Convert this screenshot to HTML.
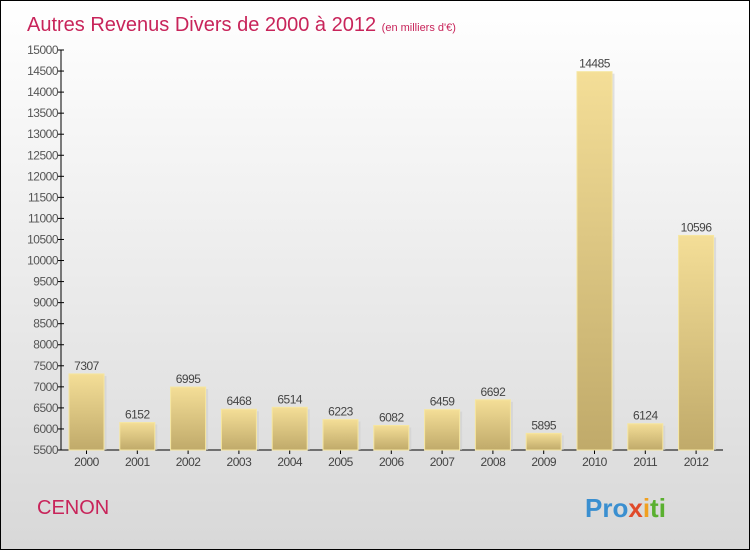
<!DOCTYPE html>
<html><head><meta charset="utf-8"><style>
html,body{margin:0;padding:0}
body{width:750px;height:550px;overflow:hidden;font-family:"Liberation Sans",sans-serif}
#wrap{position:absolute;left:0;top:0;width:748px;height:548px;border:1px solid #000;background:linear-gradient(#ffffff,#d8d8d8)}
</style></head><body>
<div id="wrap">
<svg id="chart" width="748" height="548">
<defs>
<linearGradient id="bg" x1="0" y1="0" x2="0" y2="1"><stop offset="0" stop-color="#f4de97"/><stop offset="1" stop-color="#c0aa6a"/></linearGradient>
</defs>
<text x="26" y="30" font-size="20" fill="#c8245a">Autres Revenus Divers de 2000 à 2012 <tspan font-size="11">(en milliers d'€)</tspan></text>
<text x="36" y="513" font-size="20" fill="#c8245a">CENON</text>
<text x="584" y="516" font-size="26" font-weight="bold"><tspan fill="#3a8fd0">Pro</tspan><tspan fill="#e04a2a">x</tspan><tspan fill="#f0a020">i</tspan><tspan fill="#5ab030">ti</tspan></text>
<g id="axes"></g><g id="bars"></g>
</svg>
</div>
<script>
const categories=["2000","2001","2002","2003","2004","2005","2006","2007","2008","2009","2010","2011","2012"];
const values=[7307,6152,6995,6468,6514,6223,6082,6459,6692,5895,14485,6124,10596];
const yTicks=[5500,6000,6500,7000,7500,8000,8500,9000,9500,10000,10500,11000,11500,12000,12500,13000,13500,14000,14500,15000];
const NS="http://www.w3.org/2000/svg";
const yMin=5500,yMax=15000,yTop=49,yBot=449,axisX=60;
function y(v){return yBot-(v-yMin)/(yMax-yMin)*(yBot-yTop);}
function x(i){return 85.5+i*50.8;}
function mk(t,a,p){const e=document.createElementNS(NS,t);for(const k in a)e.setAttribute(k,a[k]);p.appendChild(e);return e;}
const ax=document.getElementById('axes'),bs=document.getElementById('bars');
const yl=mk('line',{x1:axisX,y1:yTop,x2:axisX,y2:yBot,stroke:'#000'},ax);


const xl=mk('line',{x1:axisX,y1:yBot,x2:722,y2:yBot,stroke:'#000'},ax);


yTicks.forEach(v=>{
 mk('line',{x1:axisX-3,y1:y(v),x2:axisX+3,y2:y(v),stroke:'#000'},ax);
 const t=mk('text',{x:axisX-3,y:y(v)+4,'text-anchor':'end','font-size':12,fill:'#555','letter-spacing':'-0.5'},ax);
 t.textContent=v;
 
 
});
categories.forEach((c,i)=>{
 const cx=x(i),v=values[i],top=y(v);
 mk('rect',{x:cx-15,y:top+2,width:35,height:yBot-top-2,fill:'#cfcfcf',opacity:0.6},bs);
 const r=mk('rect',{x:cx-17.5,y:top,width:35,height:yBot-top,fill:'url(#bg)',stroke:'#f6e6a0','stroke-width':1},bs);
 
 
 const l=mk('text',{x:cx,y:top-4,'text-anchor':'middle','font-size':12,fill:'#444','letter-spacing':'-0.5'},bs);
 l.textContent=v;
 
 
 mk('line',{x1:cx,y1:yBot,x2:cx,y2:yBot+4,stroke:'#000'},ax);
 const xt=mk('text',{x:cx,y:yBot+16,'text-anchor':'middle','font-size':12,fill:'#444','letter-spacing':'-0.5'},ax);
 xt.textContent=c;
 
 
});
</script>
</body></html>
